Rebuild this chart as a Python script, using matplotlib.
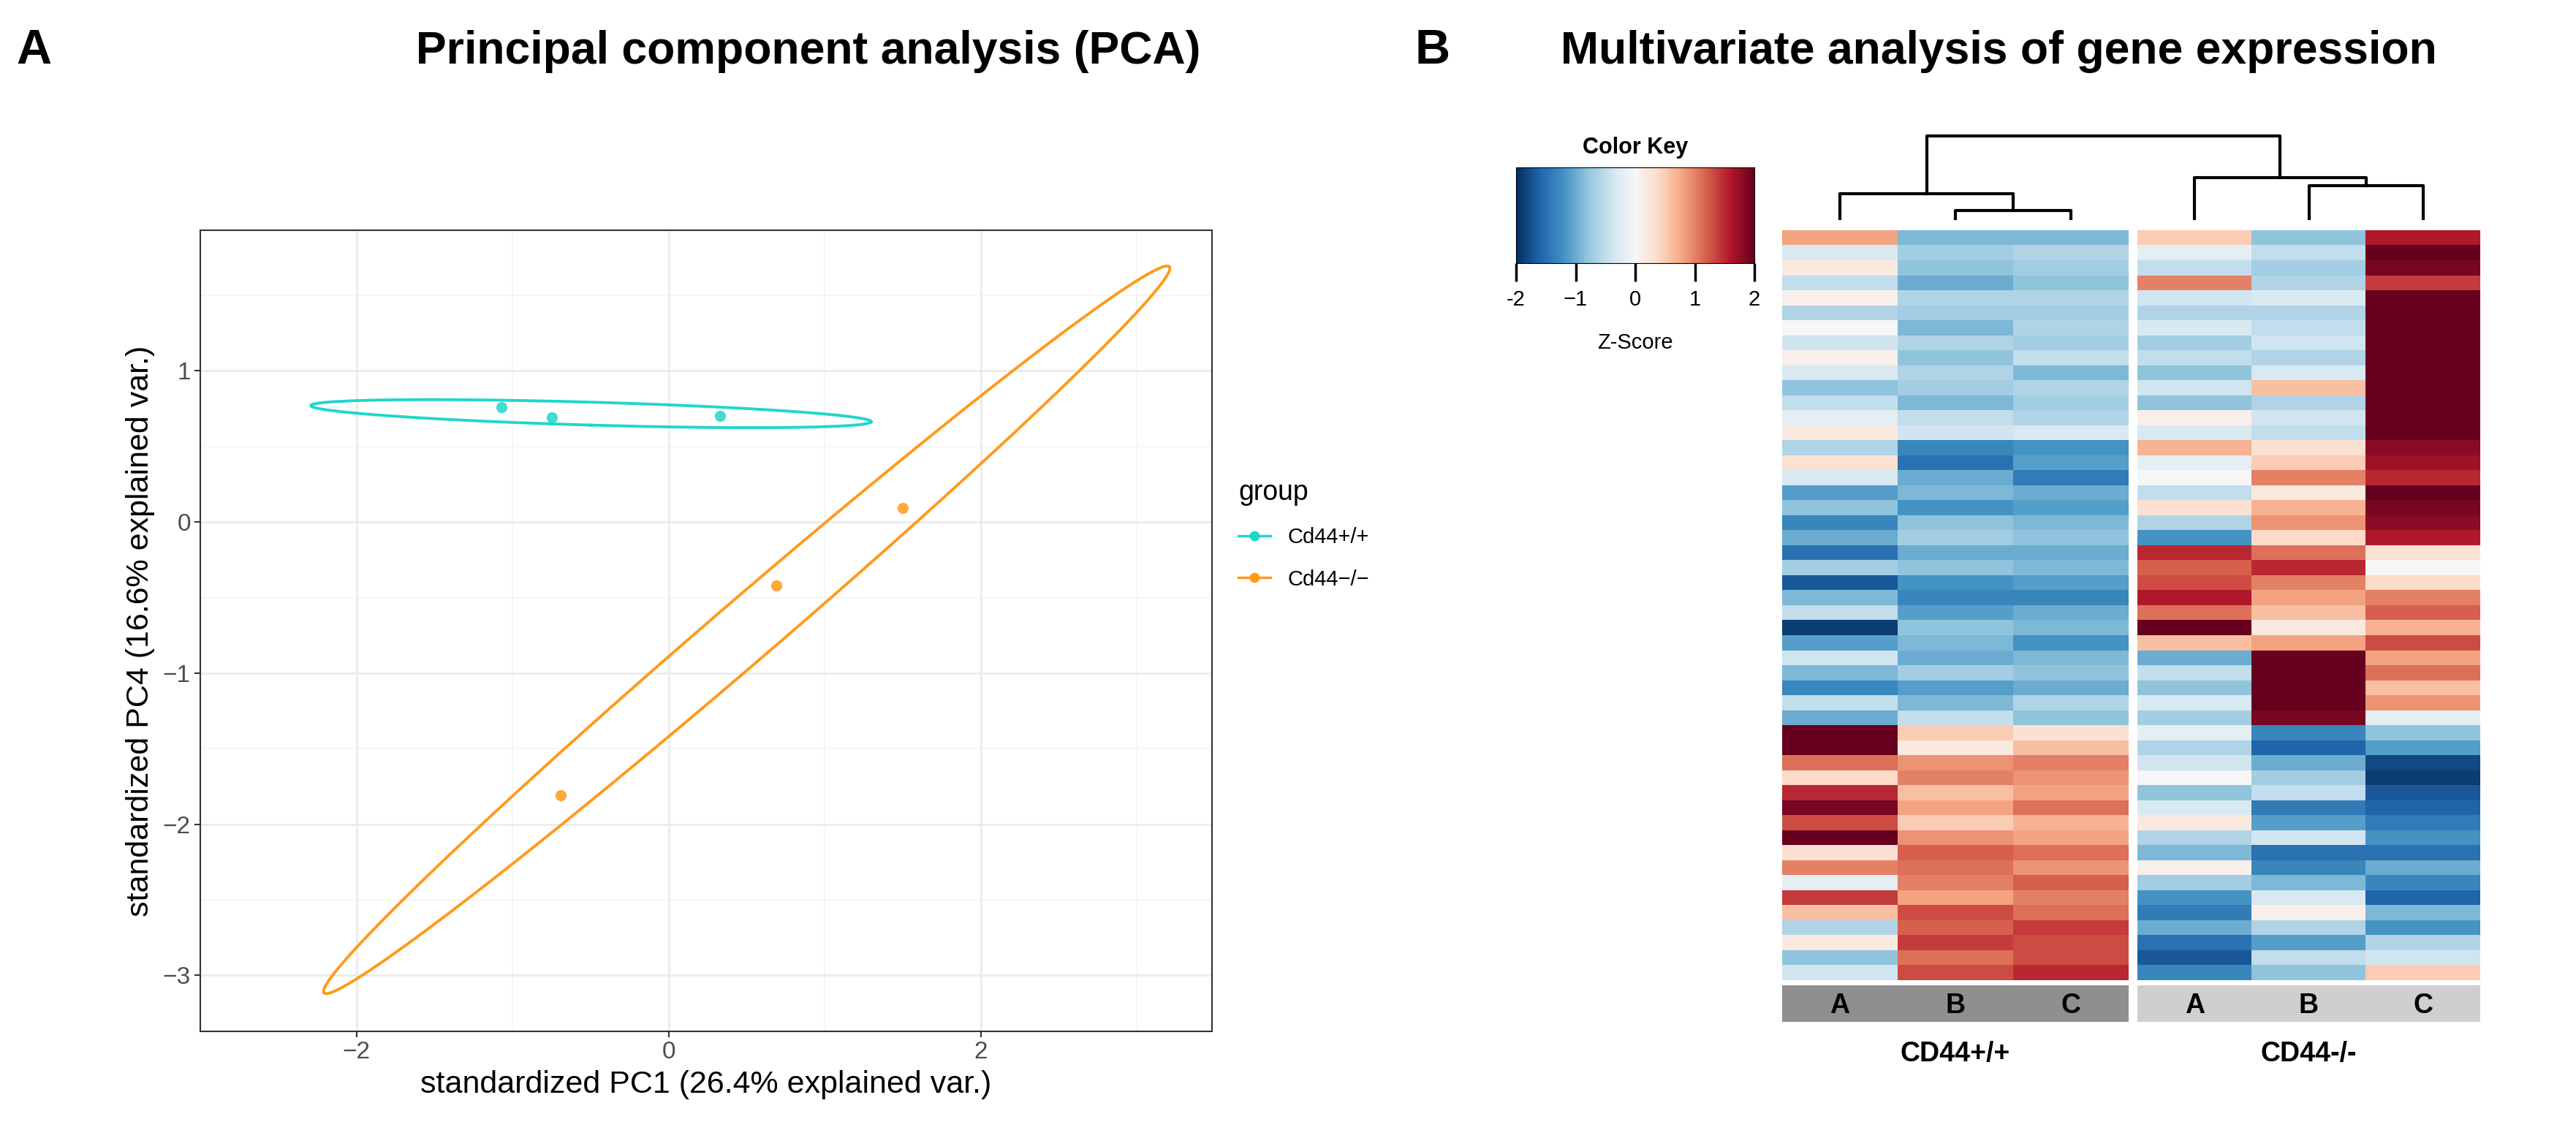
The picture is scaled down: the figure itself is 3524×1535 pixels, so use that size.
import numpy as np
import matplotlib
matplotlib.use("Agg")
import matplotlib.pyplot as plt
from matplotlib.lines import Line2D

plt.rcParams['font.family'] = ['Liberation Sans', 'DejaVu Sans']

# PCA scores
wt_x = [-1.07, -0.75, 0.33]
wt_y = [0.76, 0.69, 0.70]
ko_x = [-0.69, 0.69, 1.50]
ko_y = [-1.81, -0.42, 0.09]
groups = ["Cd44+/+", "Cd44\u2212/\u2212"]
colors = ["#1fd6cc", "#ff9a1a"]

# heatmap z-scores, columns: WT A, B, C | KO A, B, C
zrows = [
    [0.8, -0.9, -0.9, 0.5, -0.8, 1.6],
    [-0.3, -0.7, -0.6, -0.2, -0.5, 2.0],
    [0.2, -0.8, -0.7, -0.5, -0.7, 1.9],
    [-0.5, -1.0, -0.8, 1.0, -0.6, 1.4],
    [0.1, -0.6, -0.6, -0.4, -0.3, 2.2],
    [-0.6, -0.7, -0.7, -0.6, -0.6, 2.3],
    [0.0, -0.9, -0.6, -0.3, -0.5, 2.3],
    [-0.4, -0.6, -0.7, -0.7, -0.4, 2.2],
    [0.1, -0.8, -0.5, -0.5, -0.6, 2.3],
    [-0.3, -0.6, -0.9, -0.8, -0.3, 2.0],
    [-0.8, -0.7, -0.6, -0.4, 0.6, 2.1],
    [-0.5, -0.9, -0.7, -0.8, -0.6, 2.2],
    [-0.2, -0.5, -0.6, 0.1, -0.4, 2.3],
    [0.2, -0.4, -0.3, -0.3, -0.5, 2.2],
    [-0.6, -1.3, -1.2, 0.7, 0.3, 1.8],
    [0.3, -1.5, -1.1, -0.2, 0.5, 1.7],
    [-0.3, -1.0, -1.4, 0.0, 1.0, 1.5],
    [-1.1, -0.9, -1.0, -0.5, 0.2, 2.0],
    [-0.8, -1.2, -1.1, 0.3, 0.7, 1.9],
    [-1.3, -0.8, -0.9, -0.6, 0.9, 1.8],
    [-1.0, -0.7, -0.8, -1.2, 0.4, 1.6],
    [-1.5, -1.0, -1.0, 1.5, 1.1, 0.3],
    [-0.7, -0.8, -0.9, 1.2, 1.5, 0.0],
    [-1.7, -1.2, -1.1, 1.3, 1.0, 0.4],
    [-0.9, -1.3, -1.3, 1.6, 0.8, 1.0],
    [-0.5, -1.1, -1.0, 1.1, 0.6, 1.2],
    [-1.9, -0.8, -0.9, 2.0, 0.2, 0.7],
    [-1.1, -0.9, -1.2, 0.6, 0.8, 1.3],
    [-0.4, -1.0, -0.9, -1.0, 2.1, 0.8],
    [-0.9, -0.7, -0.8, -0.5, 2.2, 1.1],
    [-1.3, -1.1, -1.0, -0.8, 2.0, 0.6],
    [-0.5, -0.9, -0.6, -0.3, 2.2, 0.9],
    [-1.0, -0.5, -0.8, -0.7, 1.9, -0.2],
    [2.0, 0.5, 0.3, -0.2, -1.3, -0.8],
    [2.2, 0.2, 0.6, -0.6, -1.6, -1.1],
    [1.1, 0.9, 1.0, -0.4, -1.0, -1.8],
    [0.4, 1.0, 0.9, 0.0, -0.7, -1.9],
    [1.5, 0.6, 0.8, -0.8, -0.5, -1.7],
    [1.9, 0.8, 1.1, -0.3, -1.4, -1.6],
    [1.3, 0.5, 0.7, 0.2, -1.1, -1.4],
    [2.1, 0.9, 0.8, -0.6, -0.4, -1.2],
    [0.3, 1.2, 1.1, -0.9, -1.5, -1.5],
    [1.0, 1.1, 0.9, 0.1, -1.3, -1.0],
    [-0.2, 1.0, 1.2, -0.7, -0.9, -1.3],
    [1.4, 0.8, 1.0, -1.2, -0.3, -1.6],
    [0.6, 1.3, 1.1, -1.4, 0.1, -0.9],
    [-0.6, 1.2, 1.4, -1.0, -0.6, -1.2],
    [0.2, 1.4, 1.3, -1.5, -1.1, -0.6],
    [-0.8, 1.1, 1.3, -1.7, -0.5, -0.4],
    [-0.4, 1.3, 1.5, -1.3, -0.8, 0.5],
]
samples = ["A", "B", "C"]
hm_groups = ["CD44+/+", "CD44-/-"]
# dendrogram merge heights (relative)
h_wt_bc, h_wt_root, h_ko_bc, h_ko_root, h_top = 0.1, 0.3, 0.4, 0.5, 1.0

W, H = 3524, 1535
fig = plt.figure(figsize=(W / 100, H / 100), dpi=100)

def fx(px):
    return px / W

def fy(py):
    return 1 - py / H

# ---------- panel A ----------
fig.text(fx(22), fy(70), "A", fontsize=48, fontweight="bold", va="center")
fig.text(fx(1106), fy(70), "Principal component analysis (PCA)", fontsize=45,
         fontweight="bold", ha="center", va="center")

ax = fig.add_axes([fx(274), fy(1411), fx(1658 - 274), (1411 - 315) / H])
ax.set_xlim(-2.52, 3.48)
ax.set_ylim(-3.37, 1.93)
ax.set_xticks([-2, 0, 2])
ax.set_yticks([-3, -2, -1, 0, 1])
ax.set_xticks([-3, -1, 1, 3], minor=True)
ax.set_yticks([-2.5, -1.5, -0.5, 0.5, 1.5], minor=True)
ax.grid(True, which="major", color="#ebebeb", lw=2)
ax.grid(True, which="minor", color="#f4f4f4", lw=1.2)
ax.set_axisbelow(True)
for s in ax.spines.values():
    s.set_color("#333333")
    s.set_linewidth(1.5)
ax.tick_params(which="major", labelsize=24, labelcolor="#4d4d4d", color="#333333", length=6, width=1.5)
ax.tick_params(which="minor", length=0)
ax.set_xlabel("standardized PC1 (26.4% explained var.)", fontsize=31, labelpad=6)
ax.set_ylabel("standardized PC4 (16.6% explained var.)", fontsize=31, labelpad=8)

r = np.sqrt(5.991)
t = np.linspace(0, 2 * np.pi, 300)
for xs, ys, c in [(wt_x, wt_y, colors[0]), (ko_x, ko_y, colors[1])]:
    pts = np.array([xs, ys])
    mu = pts.mean(axis=1)
    cov = np.cov(pts)
    vals, vecs = np.linalg.eigh(cov)
    circ = np.array([np.cos(t), np.sin(t)])
    ell = vecs @ (np.sqrt(vals)[:, None] * circ) * r + mu[:, None]
    ax.plot(ell[0], ell[1], color=c, lw=2.8)
    ax.plot(xs, ys, "o", color=c, ms=11, alpha=0.85, mec="none")

handles = [Line2D([0], [0], color=c, marker="o", ms=9, lw=2.5) for c in colors]
fig.legend(handles, groups, loc="upper left", bbox_to_anchor=(fx(1668), fy(630)),
           frameon=False, title="group", fontsize=21, title_fontsize=27,
           handlelength=1.5, alignment="left", labelspacing=1.0)

# ---------- panel B ----------
fig.text(fx(1935), fy(70), "B", fontsize=48, fontweight="bold", va="center")
fig.text(fx(2135), fy(70), "Multivariate analysis of gene expression", fontsize=45,
         fontweight="bold", ha="left", va="center")

Z = np.array(zrows)
cmap = plt.get_cmap("RdBu_r")
hm_top, hm_bot = 315, 1341
blocks = [(2438, 2912), (2924, 3393)]
for gi, (x0, x1) in enumerate(blocks):
    hax = fig.add_axes([fx(x0), fy(hm_bot), fx(x1 - x0), (hm_bot - hm_top) / H])
    hax.imshow(Z[:, gi * 3:gi * 3 + 3], cmap=cmap, vmin=-2, vmax=2, aspect="auto",
               interpolation="nearest")
    hax.axis("off")
    lax = fig.add_axes([fx(x0), fy(1398), fx(x1 - x0), 50 / H])
    lax.set_facecolor("#8f8f8f" if gi == 0 else "#cfcfcf")
    lax.set_xlim(0, 3)
    lax.set_ylim(0, 1)
    for k, s in enumerate(samples):
        lax.text(k + 0.5, 0.45, s, ha="center", va="center", fontsize=27, fontweight="bold")
    lax.set_xticks([])
    lax.set_yticks([])
    for s in lax.spines.values():
        s.set_visible(False)
    fig.text(fx((x0 + x1) / 2), fy(1442), hm_groups[gi], ha="center", va="center",
             fontsize=27, fontweight="bold")

# dendrogram
leaf_y, top_y = 299, 186
def hy(h):
    return fy(leaf_y - h * (leaf_y - top_y))

cw = [(blocks[0][1] - blocks[0][0]) / 3, (blocks[1][1] - blocks[1][0]) / 3]
cx = [fx(blocks[g][0] + cw[g] * (k + 0.5)) for g in range(2) for k in range(3)]

def link(xa, ha, xb, hb, hm):
    fig.add_artist(Line2D([xa, xa, xb, xb], [hy(ha), hy(hm), hy(hm), hy(hb)],
                          transform=fig.transFigure, color="black", lw=3))

link(cx[1], 0, cx[2], 0, h_wt_bc)
wt_bc_x = (cx[1] + cx[2]) / 2
link(cx[0], 0, wt_bc_x, h_wt_bc, h_wt_root)
wt_x_root = (cx[0] + wt_bc_x) / 2
link(cx[4], 0, cx[5], 0, h_ko_bc)
ko_bc_x = (cx[4] + cx[5]) / 2
link(cx[3], 0, ko_bc_x, h_ko_bc, h_ko_root)
ko_x_root = (cx[3] + ko_bc_x) / 2
link(wt_x_root, h_wt_root, ko_x_root, h_ko_root, h_top)

# color key
kax = fig.add_axes([fx(2074), fy(360), fx(2400 - 2074), (360 - 229) / H])
grad = np.linspace(-2, 2, 256)[None, :]
kax.imshow(grad, cmap=cmap, vmin=-2, vmax=2, aspect="auto", extent=[-2, 2, 0, 1])
kax.set_yticks([])
kax.set_xticks([-2, -1, 0, 1, 2])
kax.set_xticklabels(["-2", "\u22121", "0", "1", "2"])
kax.tick_params(axis="x", labelsize=21, length=18, width=2.5, pad=8)
kax.set_title("Color Key", fontsize=22, fontweight="bold", pad=14)
kax.set_xlabel("Z-Score", fontsize=21, labelpad=22)

fig.savefig("out.png", dpi=100)
